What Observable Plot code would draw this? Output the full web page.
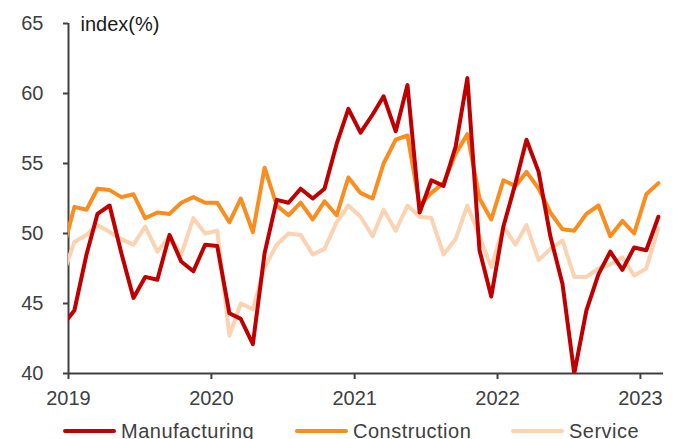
<!DOCTYPE html>
<html>
<head>
<meta charset="utf-8">
<script src="https://cdn.jsdelivr.net/npm/d3@7"></script>
<script src="https://cdn.jsdelivr.net/npm/@observablehq/plot@0.6"></script>
<style>
  body { margin: 0; background: #fff; overflow: hidden; font-family: "Liberation Sans", Arial, sans-serif; }
  #chart svg { display: block; }
  g[aria-label$="axis tick"] path, g[aria-label="x-axis"] line, g[aria-label="y-axis"] line { stroke-width: 2px; }
  .legend { display: flex; align-items: center; height: 26px; padding-left: 63px; font-size: 20px; letter-spacing: 0.5px; color: #404040; white-space: nowrap; }
  .legend .item { display: flex; align-items: center; }
  .legend .item:nth-child(1) { width: 232px; }
  .legend .item:nth-child(2) { width: 216px; }
  .legend .swatch { width: 53px; height: 4px; margin-right: 5px; border-radius: 2px; }
</style>
</head>
<body>
<div id="chart"></div>
<div class="legend" id="legend"></div>
<script>
// Monthly readings, Dec 2018 through Feb 2023 (the Dec 2018 value only feeds the line into the axis)
const firstMonth = "2018-12";
const lastMonth = "2023-02";

const seriesNames = ["Manufacturing", "Construction", "Service"];
const seriesColors = ["#c00000", "#fb8c1e", "#fbd3b2"];

const manufacturing = [
  43.4,
  44.5, 48.5, 51.4, 52.0, 48.6, 45.4, 46.9, 46.7, 49.9, 48.0, 47.3, 49.2,
  49.1, 44.3, 43.9, 42.1, 48.6, 52.4, 52.2, 53.2, 52.5, 53.2, 56.4, 58.9,
  57.2, 58.5, 59.8, 57.3, 60.6, 51.5, 53.8, 53.4, 56.2, 61.1, 48.8, 45.5,
  50.5, 53.6, 56.7, 54.4, 49.8, 46.4, 40.0, 44.5, 47.1, 48.7, 47.4, 49.0,
  48.8, 51.2
];
const construction = [
  48.6,
  51.9, 51.7, 53.2, 53.1, 52.6, 52.8, 51.1, 51.5, 51.4, 52.2, 52.6, 52.2,
  52.2, 50.8, 52.5, 50.1, 54.7, 52.0, 51.3, 52.2, 51.0, 52.3, 51.3, 54.0,
  52.9, 52.5, 55.0, 56.7, 57.0, 52.0, 52.9, 53.6, 55.7, 57.1, 52.5, 51.0,
  53.8, 53.4, 54.4, 53.2, 51.5, 50.3, 50.2, 51.4, 52.0, 49.8, 50.9, 50.0,
  52.8, 53.6
];
const service = [
  46.9,
  49.4, 49.9, 50.6, 50.1, 49.6, 49.2, 50.5, 48.7, 49.8, 48.5, 51.1, 50.0,
  50.2, 42.7, 45.0, 44.6, 47.6, 49.2, 50.0, 49.9, 48.5, 48.9, 50.8, 52.0,
  51.2, 49.8, 51.7, 50.2, 52.0, 51.2, 51.1, 48.5, 49.6, 52.0, 49.8, 47.6,
  50.5, 49.2, 50.6, 48.1, 48.9, 49.5, 46.9, 46.9, 47.5, 47.8, 48.3, 47.0,
  47.5, 50.4
];

const yTicks = [40, 45, 50, 55, 60, 65];
const yearTicks = ["2019", "2020", "2021", "2022", "2023"];
const yLabel = "index(%)";

// Each monthly reading sits in the middle of its month
const parseMonth = d3.utcParse("%Y-%m");
const months = d3.utcMonth.range(parseMonth(firstMonth), d3.utcMonth.offset(parseMonth(lastMonth), 1))
  .map(m => d3.utcDay.offset(m, 15));

const values = [manufacturing, construction, service];
// Service underneath, Manufacturing on top
const rows = [2, 1, 0].flatMap(s =>
  months.map((date, i) => ({date, series: seriesNames[s], value: values[s][i]}))
);

const xStart = d3.utcParse("%Y")(yearTicks[0]);
const xEnd = d3.utcMonth.offset(parseMonth(lastMonth), 1);

const chart = Plot.plot({
  width: 675,
  height: 418,
  marginLeft: 68,
  marginRight: 12,
  marginTop: 23,
  marginBottom: 45,
  style: {fontFamily: "Liberation Sans, Arial, sans-serif", fontSize: "20px", color: "#404040", background: "#fff"},
  x: {
    type: "utc",
    domain: [xStart, xEnd],
    ticks: yearTicks.map(y => d3.utcParse("%Y")(y)),
    tickFormat: d3.utcFormat("%Y"),
    tickSize: 6,
    tickPadding: 11,
    label: null
  },
  y: {domain: [40, 65], ticks: yTicks, tickSize: 5, tickPadding: 20, label: null},
  color: {domain: seriesNames, range: seriesColors},
  marks: [
    Plot.ruleX([xStart], {stroke: "#404040", strokeWidth: 2}),
    Plot.ruleY([40], {stroke: "#404040", strokeWidth: 2}),
    Plot.line(rows, {x: "date", y: "value", z: "series", stroke: "series", strokeWidth: 4, clip: true}),
    Plot.text([yLabel], {frameAnchor: "top-left", dx: 12, dy: 1, textAnchor: "start", lineAnchor: "middle", fill: "#1a1a1a"})
  ]
});
document.getElementById("chart").append(chart);

const legend = d3.select("#legend");
seriesNames.forEach((name, i) => {
  const item = legend.append("div").attr("class", "item");
  item.append("span").attr("class", "swatch").style("background", seriesColors[i]);
  item.append("span").text(name);
});
</script>
</body>
</html>
